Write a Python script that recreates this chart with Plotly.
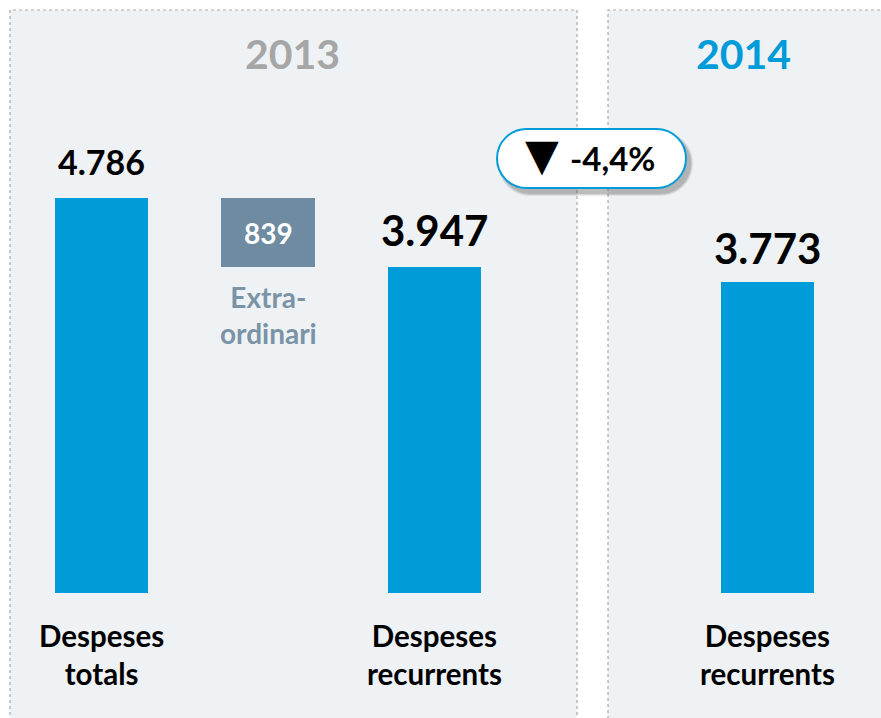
import plotly.graph_objects as go

# ---- data -------------------------------------------------------------
years = ["2013", "2014"]
categories = ["Despeses<br>totals", "Extra-<br>ordinari", "Despeses<br>recurrents", "Despeses<br>recurrents"]
positions = [0, 0.5, 1, 2]
recurrent_2013 = 3947
extraordinary_2013 = 839
recurrent_2014 = 3773
total_2013 = recurrent_2013 + extraordinary_2013

values = [total_2013, extraordinary_2013, recurrent_2013, recurrent_2014]
bases = [0, recurrent_2013, 0, 0]

# ---- styling ----------------------------------------------------------
W, H = 881, 718
FONT = "Lato"
BLUE = "#009BD9"
SLATE = "#6E8BA1"
SLATE_TXT = "#7A93A7"
PANEL = "#EEF2F4"
BORDER = "#A9A9A9"
colors = [BLUE, SLATE, BLUE, BLUE]


def fmt(v):
    return f"{v:,}".replace(",", ".")


change = (recurrent_2014 / recurrent_2013 - 1) * 100
change_label = f"{change:.1f}%".replace(".", ",")

# axis scales: 1 category unit = 333 px, first bar centred at 101.5 px,
# zero line at 593 px, 395 px for the 2013 total
unit_px = 333.0
x0_px = 101.5
base_px = 593.0
k = 395.0 / total_2013
x_range = [-x0_px / unit_px, (W - x0_px) / unit_px]
y_range = [-(H - base_px) / k, base_px / k]


def px(x):
    return x / W


def py(y):
    return 1 - y / H


fig = go.Figure()
fig.add_trace(go.Bar(
    x=positions, y=values, base=bases, width=0.28,
    marker=dict(color=colors, line=dict(width=0)),
    hoverinfo="skip", showlegend=False,
))

shapes = []
# year panels with dotted borders
for (a, b) in [(10, 577), (608, 900)]:
    shapes.append(dict(type="rect", xref="paper", yref="paper",
                       x0=px(a), x1=px(b), y0=py(760), y1=py(10),
                       fillcolor=PANEL, line=dict(color=BORDER, width=1.2, dash="dot"),
                       layer="below"))


def pill(x0, y0, x1, y1):
    r = (y1 - y0) / 2
    c = 0.5523 * r
    ym = (y0 + y1) / 2
    pts = [
        f"M{px(x0 + r)},{py(y0)}",
        f"L{px(x1 - r)},{py(y0)}",
        f"C{px(x1 - r + c)},{py(y0)} {px(x1)},{py(ym - c)} {px(x1)},{py(ym)}",
        f"C{px(x1)},{py(ym + c)} {px(x1 - r + c)},{py(y1)} {px(x1 - r)},{py(y1)}",
        f"L{px(x0 + r)},{py(y1)}",
        f"C{px(x0 + r - c)},{py(y1)} {px(x0)},{py(ym + c)} {px(x0)},{py(ym)}",
        f"C{px(x0)},{py(ym - c)} {px(x0 + r - c)},{py(y0)} {px(x0 + r)},{py(y0)}",
        "Z",
    ]
    return " ".join(pts)


# soft shadow under the change badge
for i, op in enumerate([0.10, 0.12, 0.16]):
    g = 3 - i
    shapes.append(dict(type="path", xref="paper", yref="paper",
                       path=pill(497 + 4 - g, 129 + 5 - g, 686 + 4 + g, 188 + 5 + g),
                       fillcolor=f"rgba(60,60,60,{op})", line=dict(width=0), layer="above"))
shapes.append(dict(type="path", xref="paper", yref="paper",
                   path=pill(497, 129, 686, 188),
                   fillcolor="white", line=dict(color=BLUE, width=2), layer="above"))

annotations = []
# year headings
for year, xc, col in [(years[0], 292, "#A6A6A6"), (years[1], 743, BLUE)]:
    annotations.append(dict(text=f"<b>{year}</b>", xref="paper", yref="paper",
                            x=px(xc), y=py(53), xanchor="center", yanchor="middle",
                            showarrow=False, font=dict(family=FONT, size=41, color=col)))

# value labels above bars
label_sizes = [34, None, 42, 42]
label_shift = [37, None, 37, 34]
for i in [0, 2, 3]:
    annotations.append(dict(text=f"<b>{fmt(values[i])}</b>", x=positions[i], y=bases[i] + values[i],
                            xref="x", yref="y", xanchor="center", yanchor="middle",
                            yshift=label_shift[i], showarrow=False,
                            font=dict(family=FONT, size=label_sizes[i], color="black")))

# extraordinary block label and caption
annotations.append(dict(text=f"<b>{fmt(values[1])}</b>", x=positions[1], y=bases[1] + values[1] / 2,
                        xref="x", yref="y", xanchor="center", yanchor="middle", showarrow=False,
                        font=dict(family=FONT, size=28, color="white")))
annotations.append(dict(text=f"<b>{categories[1]}</b>", x=positions[1], y=bases[1],
                        xref="x", yref="y", xanchor="center", yanchor="middle", yshift=-48,
                        showarrow=False, font=dict(family=FONT, size=28, color=SLATE_TXT)))

# category labels under bars
for i in [0, 2, 3]:
    annotations.append(dict(text=f"<b>{categories[i]}</b>", x=positions[i], y=0,
                            xref="x", yref="y", xanchor="center", yanchor="middle", yshift=-61,
                            showarrow=False, font=dict(family=FONT, size=29.5, color="black")))

# change badge: down triangle and percentage
annotations.append(dict(text="▼", xref="paper", yref="paper",
                        x=px(542), y=py(155), xanchor="center", yanchor="middle", showarrow=False,
                        font=dict(family="DejaVu Sans", size=44, color="black")))
annotations.append(dict(text=f"<b>{change_label}</b>", xref="paper", yref="paper",
                        x=px(612), y=py(158), xanchor="center", yanchor="middle", showarrow=False,
                        font=dict(family=FONT, size=33, color="black")))

fig.update_layout(
    width=W, height=H, margin=dict(l=0, r=0, t=0, b=0),
    paper_bgcolor="white", plot_bgcolor="rgba(0,0,0,0)",
    xaxis=dict(range=x_range, visible=False, fixedrange=True),
    yaxis=dict(range=y_range, visible=False, fixedrange=True),
    shapes=shapes, annotations=annotations, bargap=0,
)

fig.write_html("out.html")
